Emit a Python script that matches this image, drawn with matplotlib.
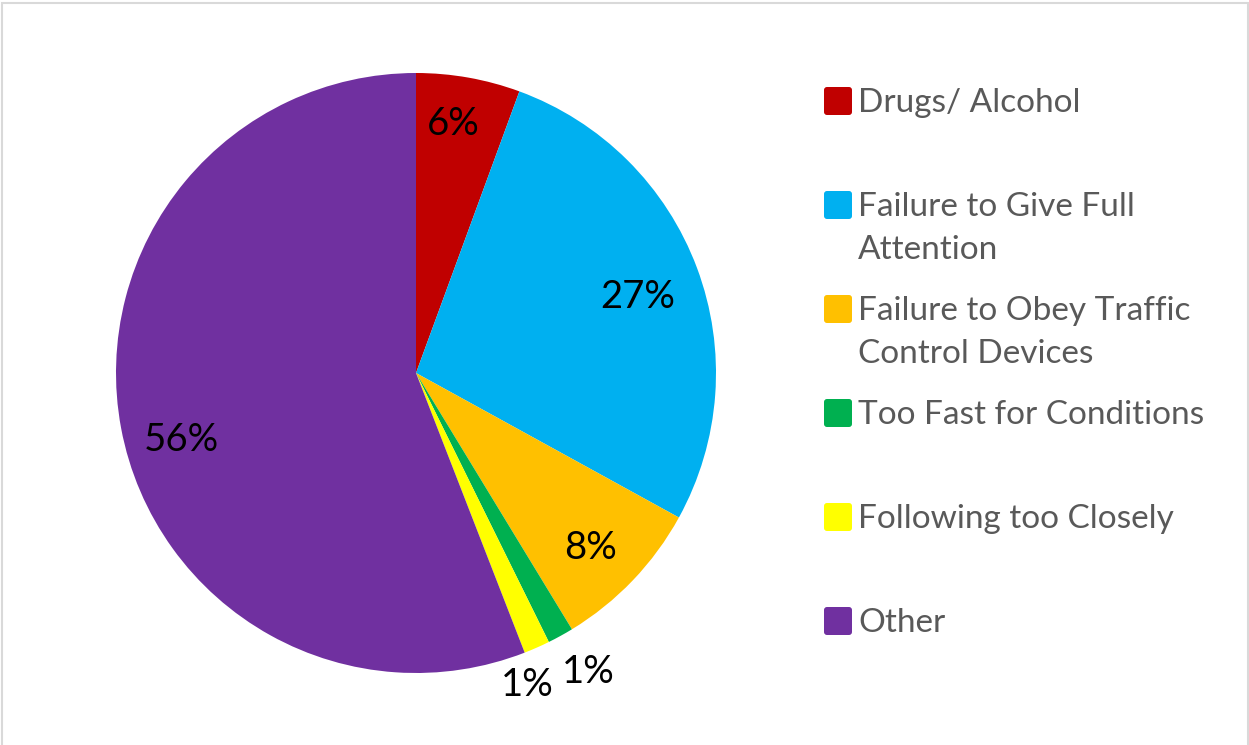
import matplotlib
matplotlib.use("Agg")
import matplotlib.pyplot as plt
from matplotlib.patches import FancyBboxPatch, Rectangle
from matplotlib.transforms import IdentityTransform

# data
categories = ["Drugs/ Alcohol", "Failure to Give Full\nAttention",
              "Failure to Obey Traffic\nControl Devices", "Too Fast for Conditions",
              "Following too Closely", "Other"]
shares = [5.6, 27.4, 8.3, 1.4, 1.4, 55.9]
colors = ["#C00000", "#00B0F0", "#FFC000", "#00B050", "#FFFF00", "#7030A0"]

# where the percent labels sit (radius units)
label_pos = [(0.123, 0.83), (0.74, 0.253), (0.58, -0.583),
             (0.573, -0.997), (0.37, -1.04), (-0.783, -0.223)]

plt.rcParams['font.family'] = ['Lato', 'DejaVu Sans']

W, H = 1249, 745
fig = plt.figure(figsize=(W / 100, H / 100), dpi=100)

# pie: centre (416,373), radius 300 px
cx, cy, r = 416, 373, 300
ax = fig.add_axes([(cx - r) / W, (H - cy - r) / H, 2 * r / W, 2 * r / H])
wedges, texts, autotexts = ax.pie(shares, colors=colors, startangle=90, counterclock=False,
                                  autopct='%.0f%%', wedgeprops=dict(linewidth=0),
                                  textprops=dict(fontsize=27.5, color='black'))
for t, (x, y) in zip(autotexts, label_pos):
    t.set_position((x, y))
    t.set_ha('center')
    t.set_va('center')
ax.set_xlim(-1, 1)
ax.set_ylim(-1, 1)
ax.set_aspect('auto')
ax.axis('off')

# legend, drawn by hand in pixel coordinates
tr = IdentityTransform()
for i, (lab, col) in enumerate(zip(categories, colors)):
    yc = 101 + 104 * i
    sq = FancyBboxPatch((824, H - yc - 14), 28, 28, boxstyle="round,pad=0,rounding_size=3",
                        facecolor=col, edgecolor='none', transform=tr)
    fig.patches.append(sq)
    fig.text(858 / W, (H - yc + 13) / H, lab, ha='left', va='top', fontsize=24,
             color='#595959', linespacing=1.55)

# thin grey frame
fig.patches.append(Rectangle((1.5 / W, -0.01), (1246 / W), (H - 2.5) / H + 0.01,
                             transform=fig.transFigure, fill=False,
                             edgecolor='#D9D9D9', linewidth=1.5))

fig.savefig("out.png", dpi=100)
